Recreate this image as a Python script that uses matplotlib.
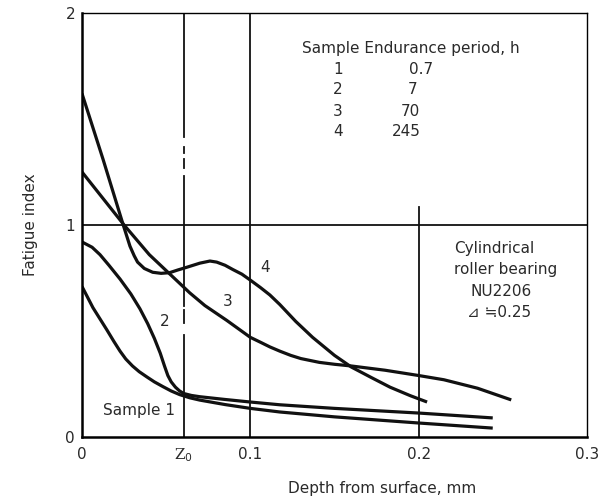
import matplotlib
matplotlib.use("Agg")
import matplotlib.pyplot as plt

plt.rcParams['font.family'] = ['DejaVu Sans', 'Noto Sans CJK JP']

# depth (mm) and fatigue index
x1 = [0, 0.0065, 0.0148, 0.019, 0.0226, 0.026, 0.030, 0.034, 0.0386, 0.043, 0.048, 0.053, 0.058,
      0.064, 0.070, 0.085, 0.100, 0.1175, 0.150, 0.200, 0.244]
y1 = [0.71, 0.61, 0.505, 0.45, 0.405, 0.368, 0.335, 0.308, 0.283, 0.26, 0.238, 0.217, 0.20,
      0.185, 0.174, 0.153, 0.135, 0.118, 0.095, 0.066, 0.042]

x2 = [0, 0.006, 0.0107, 0.016, 0.0226, 0.029, 0.0344, 0.039, 0.043, 0.0465, 0.049, 0.051, 0.053,
      0.0555, 0.058, 0.0605, 0.065, 0.070, 0.085, 0.100, 0.1175, 0.150, 0.200, 0.244]
y2 = [0.92, 0.895, 0.86, 0.81, 0.745, 0.675, 0.605, 0.535, 0.465, 0.395, 0.335, 0.29, 0.26,
      0.235, 0.217, 0.205, 0.196, 0.19, 0.177, 0.165, 0.152, 0.135, 0.113, 0.09]

x3 = [0, 0.0125, 0.025, 0.040, 0.050, 0.064, 0.073, 0.086, 0.100, 0.106, 0.1116, 0.1175, 0.124,
      0.130, 0.141, 0.150, 0.160, 0.180, 0.200, 0.215, 0.235, 0.255]
y3 = [1.25, 1.125, 1.0, 0.86, 0.785, 0.68, 0.62, 0.55, 0.47, 0.447, 0.425, 0.405, 0.385,
      0.37, 0.352, 0.343, 0.335, 0.315, 0.29, 0.27, 0.23, 0.175]

x4 = [0, 0.0125, 0.0245, 0.0265, 0.0285, 0.031, 0.033, 0.037, 0.042, 0.047, 0.052, 0.057, 0.062,
      0.070, 0.076, 0.080, 0.085, 0.0896, 0.095, 0.100, 0.106, 0.1116, 0.1175, 0.127, 0.137, 0.150,
      0.160, 0.172, 0.183, 0.195, 0.205]
y4 = [1.62, 1.31, 1.0, 0.95, 0.90, 0.855, 0.825, 0.795, 0.777, 0.772, 0.775, 0.788, 0.80,
      0.82, 0.83, 0.825, 0.81, 0.79, 0.768, 0.74, 0.705, 0.67, 0.625, 0.545, 0.47, 0.385,
      0.33, 0.28, 0.235, 0.195, 0.165]

z0 = 0.0605
z0_pieces = [(0, 0.48), (0.54, 0.60), (0.62, 1.23), (1.27, 1.31), (1.34, 1.37), (1.415, 2.0)]

samples = ['1', '2', '3', '4']
hours = ['0.7', '7', '70', '245']

fig = plt.figure(figsize=(6.13, 4.99), dpi=100)
ax = fig.add_axes([82 / 613, 1 - 437 / 499, 505 / 613, 424 / 499])
ax.set_xlim(0, 0.3)
ax.set_ylim(0, 2)

lw = 2.3
for xs, ys in [(x1, y1), (x2, y2), (x3, y3), (x4, y4)]:
    ax.plot(xs, ys, color='#111111', lw=lw, solid_capstyle='butt', solid_joinstyle='round')

# grid lines
glw = 1.3
ax.axhline(1.0, color='#111111', lw=glw)
ax.axvline(0.1, color='#111111', lw=glw)
ax.plot([0.2, 0.2], [0, 1.085], color='#111111', lw=glw)
for a, b in z0_pieces:
    ax.plot([z0, z0], [a, b], color='#111111', lw=glw)

for s in ['left', 'bottom']:
    ax.spines[s].set_linewidth(1.8)
for s in ['top', 'right']:
    ax.spines[s].set_linewidth(1.0)

txt = '#2a2a2a'
ax.set_xticks([0, z0, 0.1, 0.2, 0.3])
ax.set_xticklabels(['0', 'Z$_0$', '0.1', '0.2', '0.3'])
ax.set_yticks([0, 1, 2])
ax.set_yticklabels(['0', '1', '2'])
ax.tick_params(length=0, labelsize=11, colors=txt, pad=7)
ax.tick_params(axis='y', pad=5)
ax.get_xticklabels()[1].set_family('DejaVu Serif')

fig.text(30 / 613, 1 - 225 / 499, 'Fatigue index', rotation=90, ha='center', va='center',
         fontsize=11, color=txt)
fig.text(382 / 613, 1 - 488 / 499, 'Depth from surface, mm', ha='center', va='center',
         fontsize=11, color=txt)

# table of samples
def px(x, y):
    return x / 613, 1 - y / 499

fig.text(*px(411, 48), 'Sample Endurance period, h', ha='center', va='center',
         fontsize=11, color=txt)
num_x = [421, 413, 410, 406]
for i, (s, h) in enumerate(zip(samples, hours)):
    yy = 69 + 21 * i
    fig.text(*px(338, yy), s, ha='center', va='center', fontsize=11, color=txt)
    fig.text(*px(num_x[i], yy), h, ha='center', va='center', fontsize=11, color=txt)

box_lines = ['Cylindrical', 'roller bearing', 'NU2206', '⊿ ≒0.25']
box_x = [494, 506, 501, 499]
for i, t in enumerate(box_lines):
    fig.text(*px(box_x[i], 248 + 21.5 * i), t, ha='center', va='center',
             fontsize=11, color=txt)

# curve labels
fig.text(*px(265, 267), '4', ha='center', va='center', fontsize=11, color=txt)
fig.text(*px(228, 301), '3', ha='center', va='center', fontsize=11, color=txt)
fig.text(*px(165, 322), '2', ha='center', va='center', fontsize=11, color=txt)
fig.text(*px(139, 410), 'Sample 1', ha='center', va='center', fontsize=11, color=txt)

fig.savefig('out.png', dpi=100)
